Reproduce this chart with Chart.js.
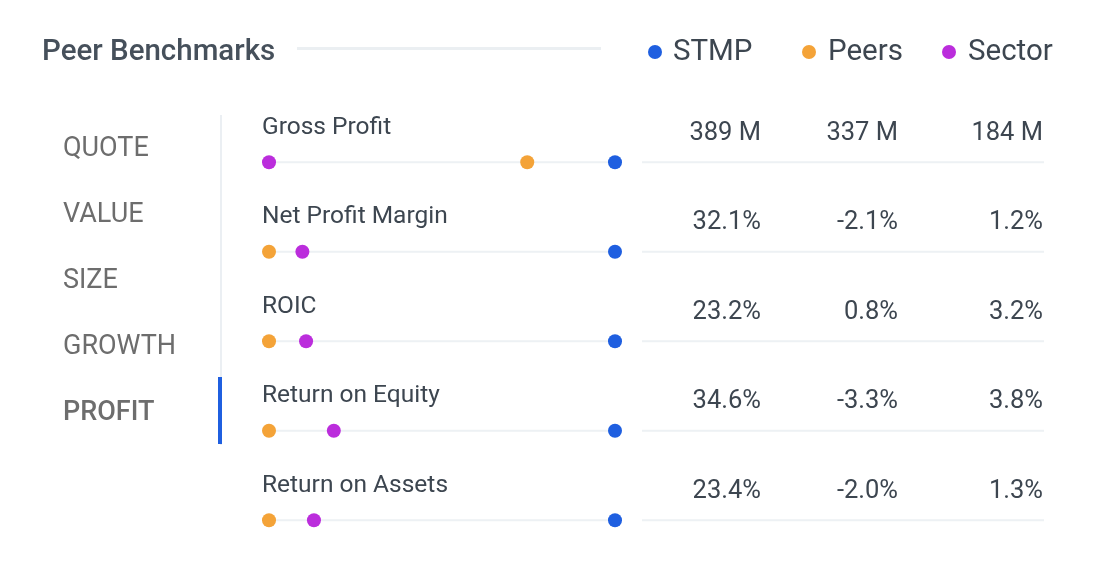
<!DOCTYPE html>
<html><head><meta charset="utf-8">
<script src="https://cdn.jsdelivr.net/npm/chart.js@4.4.1/dist/chart.umd.min.js"></script>
<style>
html,body{margin:0;padding:0;background:#fff;}
body{width:1100px;height:572px;position:relative;overflow:hidden;font-family:Roboto,"Noto Sans",sans-serif;}
#c{position:absolute;left:0;top:0;width:1100px;height:572px;display:block;}
.t{position:absolute;white-space:nowrap;line-height:1.1719;}
.bar{position:absolute;}
</style></head><body>
<canvas id="c" width="1100" height="572"></canvas>
<div id="ui"></div>
<script>
// ---- data ----
const rowLabels = ['Gross Profit','Net Profit Margin','ROIC','Return on Equity','Return on Assets'];
const stmpValues = [389, 32.1, 23.2, 34.6, 23.4];
const peersValues = [337, -2.1, 0.8, -3.3, -2.0];
const sectorValues = [184, 1.2, 3.2, 3.8, 1.3];
const valueUnits = [' M','%','%','%','%'];
const valueDecimals = [0,1,1,1,1];
const seriesNames = ['STMP','Peers','Sector'];
const seriesColors = ['#1f5fe0','#f4a338','#bb2ddc'];
const navItems = ['QUOTE','VALUE','SIZE','GROWTH','PROFIT'];
const activeNav = 'PROFIT';
const titleText = 'Peer Benchmarks';

const seriesValues = [stmpValues, peersValues, sectorValues];

function norm(i, v){
  const vals = seriesValues.map(s => s[i]);
  const mn = Math.min(...vals), mx = Math.max(...vals);
  return mx === mn ? 0.5 : (v - mn) / (mx - mn);
}

const ui = document.getElementById('ui');
const ASC = 0.9277;
function text(str, x, baseline, fs, opts){
  opts = opts || {};
  const d = document.createElement('div');
  d.className = 't';
  d.textContent = str;
  d.style.fontSize = fs + 'px';
  d.style.top = (baseline - ASC * fs) + 'px';
  if (opts.align === 'right') d.style.right = (1100 - x) + 'px';
  else d.style.left = x + 'px';
  d.style.color = opts.color || '#3d4650';
  d.style.fontWeight = opts.weight || 400;
  ui.appendChild(d);
  return d;
}
function box(x, y, w, h, color, radius){
  const d = document.createElement('div');
  d.className = 'bar';
  d.style.left = x + 'px'; d.style.top = y + 'px';
  d.style.width = w + 'px'; d.style.height = h + 'px';
  d.style.background = color;
  if (radius) d.style.borderRadius = radius;
  ui.appendChild(d);
}

const rowLines = {
  id: 'rowLines',
  beforeDatasetsDraw(chart){
    const {ctx, scales:{x, y}} = chart;
    ctx.save();
    ctx.strokeStyle = '#edf1f4';
    ctx.lineWidth = 2;
    rowLabels.forEach((lab, i) => {
      const py = y.getPixelForValue(i);
      ctx.beginPath();
      ctx.moveTo(x.getPixelForValue(0), py);
      ctx.lineTo(x.getPixelForValue(1), py);
      ctx.moveTo(642, py);
      ctx.lineTo(1044, py);
      ctx.stroke();
    });
    ctx.restore();
  }
};

const chart = new Chart(document.getElementById('c'), {
  type: 'scatter',
  data: {
    datasets: seriesNames.map((name, s) => ({
      label: name,
      data: rowLabels.map((lab, i) => ({x: norm(i, seriesValues[s][i]), y: i})),
      backgroundColor: seriesColors[s],
      borderWidth: 0,
      pointRadius: 7,
      pointHoverRadius: 7,
      clip: false
    }))
  },
  options: {
    responsive: false,
    animation: false,
    events: [],
    layout: {padding: {left: 269, right: 485, top: 117.5, bottom: 4.5}},
    scales: {
      x: {type: 'linear', min: 0, max: 1, display: false},
      y: {type: 'linear', min: -0.5, max: 4.5, reverse: true, display: false}
    },
    plugins: {legend: {display: false}, tooltip: {enabled: false}}
  },
  plugins: [rowLines]
});

// ---- header ----
text(titleText, 42, 60, 29.5, {weight: 500, color: '#46505b'});
box(297, 47, 304, 3, '#ebeff2');
const legendDotX = [655, 809, 949];
const legendTextX = [673, 828, 968];
seriesNames.forEach((n, s) => {
  box(legendDotX[s] - 7, 45, 14, 14, seriesColors[s], '50%');
  text(n, legendTextX[s], 60, 29.5, {color: '#3d4650'});
});

// ---- nav ----
box(220, 115, 2, 330, '#ebeff3');
navItems.forEach((n, i) => {
  const active = n === activeNav;
  text(n, 63, 157 + 66 * i, 27, {color: '#6d6d6d', weight: active ? 500 : 400});
  if (active) box(218, 377, 4, 67, '#1f5fe0');
});

// ---- rows ----
const colRight = [761, 898, 1043];
rowLabels.forEach((lab, i) => {
  const py = chart.scales.y.getPixelForValue(i);
  text(lab, 262, py - 28, 24.5);
  seriesValues.forEach((vals, s) => {
    text(vals[i].toFixed(valueDecimals[i]) + valueUnits[i], colRight[s], py - 22, 25.5, {align: 'right'});
  });
});
</script>
</body></html>
